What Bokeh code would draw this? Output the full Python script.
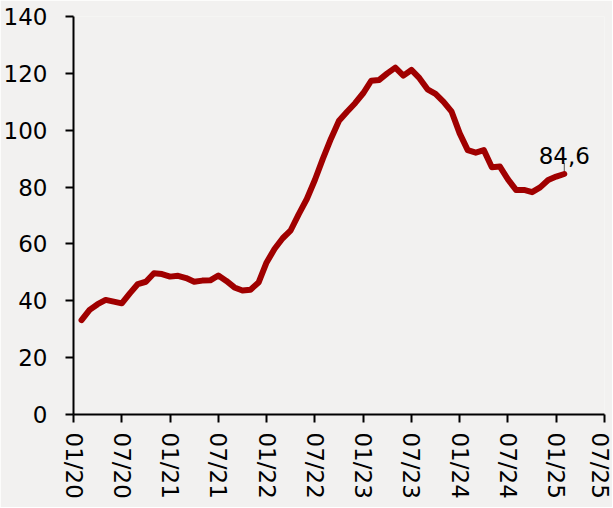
import pandas as pd
from bokeh.plotting import figure
from bokeh.models import FixedTicker, Label, Range1d
from bokeh.embed import file_html
from bokeh.resources import INLINE

# ---- data ----
start_month = "2020-02"
values = [
    33.2, 36.8, 38.8, 40.3, 39.7, 39.1, 42.6, 45.9, 46.7, 49.7, 49.4,          # 2020 Feb-Dec
    48.5, 48.8, 48.0, 46.7, 47.1, 47.2, 48.9, 47.0, 44.7, 43.6, 43.9, 46.4,    # 2021
    53.5, 58.3, 62.0, 64.8, 70.5, 75.8, 82.5, 90.0, 97.0, 103.3, 106.5, 109.5, # 2022
    113.0, 117.4, 117.7, 120.0, 122.0, 119.2, 121.2, 118.3, 114.4, 112.8, 110.0, 106.5,  # 2023
    98.9, 93.0, 92.1, 93.0, 87.0, 87.2, 82.7, 79.0, 79.0, 78.2, 79.9, 82.5,    # 2024
    83.7, 84.6,                                                                # 2025 Jan-Feb
]
tick_labels = ["01/20", "07/20", "01/21", "07/21", "01/22", "07/22",
               "01/23", "07/23", "01/24", "07/24", "01/25", "07/25"]
y_ticks = [0, 20, 40, 60, 80, 100, 120, 140]
last_label = "84,6"

dates = pd.date_range(start_month, periods=len(values), freq="MS")
x = [(d.year - 2020) * 12 + (d.month - 1) for d in dates]
tick_pos = [i * 6 for i in range(len(tick_labels))]

BG = "#F2F1F0"
RED = "#A00000"
FONT = "DejaVu Sans"
FS = "23px"

p = figure(width=612, height=507, output_backend="svg", toolbar_location=None,
           x_range=Range1d(0, 66), y_range=Range1d(0, 140),
           min_border_left=72, min_border_right=8, min_border_top=16, min_border_bottom=93)
p.background_fill_color = BG
p.border_fill_color = BG
p.outline_line_color = None
p.grid.visible = False

# leader line for the last value
p.segment(x0=[x[-1]], y0=[values[-1]], x1=[x[-1]], y1=[values[-1] + 3.8],
          line_color="#555555", line_width=1)

p.line(x, values, line_color=RED, line_width=6, line_join="round", line_cap="round")

p.add_layout(Label(x=x[-1], y=values[-1], text=last_label, y_offset=18,
                   text_align="center", text_baseline="alphabetic",
                   text_font=FONT, text_font_size=FS, text_color="black"))

p.xaxis.ticker = FixedTicker(ticks=tick_pos)
p.xaxis.major_label_overrides = {t: l for t, l in zip(tick_pos, tick_labels)}
p.xaxis.major_label_orientation = "vertical"
p.yaxis.ticker = FixedTicker(ticks=y_ticks)

for ax in (p.xaxis[0], p.yaxis[0]):
    ax.axis_line_color = "black"
    ax.axis_line_width = 2
    ax.major_tick_line_color = "black"
    ax.major_tick_line_width = 2
    ax.major_tick_out = 8
    ax.major_tick_in = 0
    ax.minor_tick_line_color = None
    ax.major_label_text_font = FONT
    ax.major_label_text_font_size = FS
    ax.major_label_text_color = "black"

p.yaxis.major_label_standoff = 18
p.xaxis.major_label_standoff = 10

open("out.html", "w").write(file_html(p, INLINE))
